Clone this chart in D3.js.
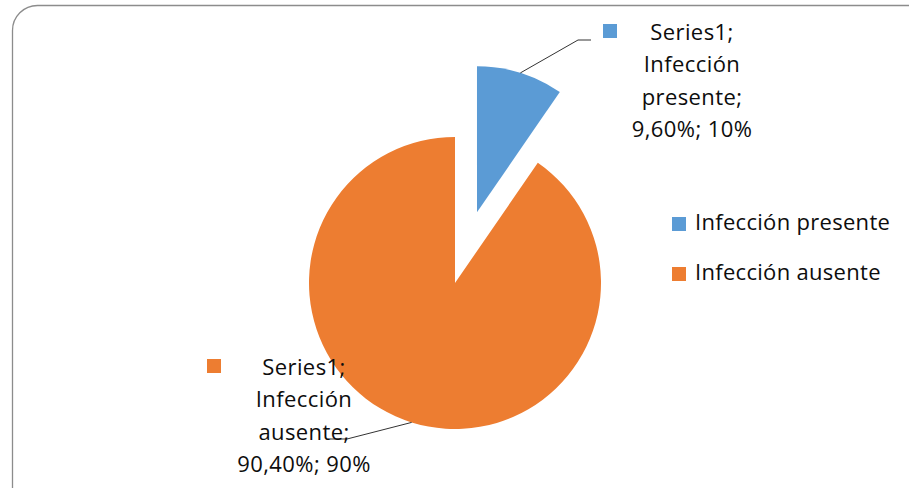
<!DOCTYPE html>
<html>
<head>
<meta charset="utf-8">
<script src="https://cdn.jsdelivr.net/npm/d3@7"></script>
<style>
  body { margin: 0; background: #fff; }
  text { font-family: "Open Sans", sans-serif; fill: #0d0d0d; }
</style>
</head>
<body>
<div id="chart"></div>
<script>
// chart data
var categories = ["Infección presente", "Infección ausente"];
var values = [9.6, 90.4];
var shareLabels = ["9,60%; 10%", "90,40%; 90%"];
var seriesName = "Series1";
var colors = ["#5B9BD5", "#ED7D31"];

var width = 909,
    height = 488;

var svg = d3.select("#chart").append("svg")
    .attr("width", width)
    .attr("height", height);

// chart area border (rounded, runs off the right and bottom)
svg.append("rect")
    .attr("x", 12.5).attr("y", 5.5)
    .attr("width", 940).attr("height", 520)
    .attr("rx", 25).attr("ry", 25)
    .attr("fill", "none")
    .attr("stroke", "#8c8c8c")
    .attr("stroke-width", 1.3);

var cx = 455, cy = 283, radius = 146, explode = 74;

var pie = d3.pie().sort(null).value(function(d) { return d; });
var arc = d3.arc().innerRadius(0).outerRadius(radius);
var arcs = pie(values);

// offset of each slice (only the first one is pulled out)
function offset(d, i) {
    var mid = (d.startAngle + d.endAngle) / 2;
    var r = i === 0 ? explode : 0;
    return [Math.sin(mid) * r, -Math.cos(mid) * r];
}

var g = svg.append("g").attr("transform", "translate(" + cx + "," + cy + ")");

g.selectAll("path.slice")
    .data(arcs)
    .enter().append("path")
        .attr("class", "slice")
        .attr("d", arc)
        .attr("fill", function(d, i) { return colors[i]; })
        .attr("transform", function(d, i) { return "translate(" + offset(d, i) + ")"; });

// data labels: where the text block sits and where its leader line bends
var labelPos = [
    { sq: [603, 24], tx: 692, ty: 40, bend: [578, 40], end: [591, 40] },
    { sq: [207, 359], tx: 304, ty: 375, bend: [347, 439], end: [330, 439] }
];

arcs.forEach(function(d, i) {
    var o = offset(d, i);
    var mid = (d.startAngle + d.endAngle) / 2;
    var start = [cx + o[0] + Math.sin(mid) * radius, cy + o[1] - Math.cos(mid) * radius];
    var p = labelPos[i];

    svg.append("polyline")
        .attr("points", [start, p.bend, p.end].map(function(q) { return q.join(","); }).join(" "))
        .attr("fill", "none")
        .attr("stroke", "#333")
        .attr("stroke-width", 1);

    svg.append("rect")
        .attr("x", p.sq[0]).attr("y", p.sq[1])
        .attr("width", 14).attr("height", 14)
        .attr("fill", colors[i]);

    var words = categories[i].split(" ");
    var lines = [seriesName + ";", words[0], words[1] + ";", shareLabels[i]];
    svg.append("text")
        .attr("text-anchor", "middle")
        .style("font-size", "22px")
        .style("letter-spacing", "0.4px")
        .selectAll("tspan")
        .data(lines)
        .enter().append("tspan")
            .attr("x", p.tx)
            .attr("y", function(l, j) { return p.ty + j * 32.3; })
            .text(function(l) { return l; });
});

// legend
var legend = svg.selectAll("g.legend")
    .data(categories)
    .enter().append("g")
        .attr("class", "legend")
        .attr("transform", function(d, i) { return "translate(672," + (217 + i * 50) + ")"; });

legend.append("rect")
    .attr("width", 14).attr("height", 14)
    .attr("fill", function(d, i) { return colors[i]; });

legend.append("text")
    .attr("x", 23).attr("y", 13)
    .style("font-size", "22px")
    .style("letter-spacing", "0.3px")
    .text(function(d) { return d; });
</script>
</body>
</html>
